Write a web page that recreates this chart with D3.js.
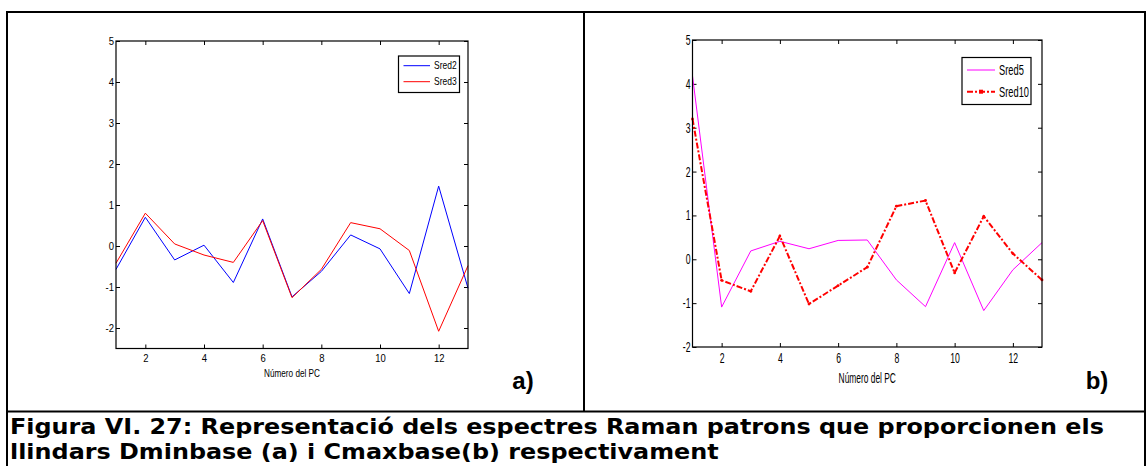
<!DOCTYPE html>
<html>
<head>
<meta charset="utf-8">
<script src="https://cdn.jsdelivr.net/npm/d3@7"></script>
<style>
    body { margin: 0; background: #fff; }
    svg { display: block; }
    .tick line { stroke: #000; }
</style>
</head>
<body>
<svg id="surface" width="1147" height="466"></svg>
<script>
// PC number on x, one value per PC for each spectrum
var pcNumbers = [1, 2, 3, 4, 5, 6, 7, 8, 9, 10, 11, 12, 13];

var sred2  = [-0.57, 0.70, -0.34, 0.02, -0.89, 0.66, -1.24, -0.62, 0.27, -0.07, -1.16, 1.46, -1.03];
var sred3  = [-0.42, 0.80, 0.05, -0.22, -0.40, 0.62, -1.26, -0.57, 0.57, 0.42, -0.11, -2.08, -0.48];
var sred5  = [4.18, -1.09, 0.19, 0.41, 0.24, 0.43, 0.44, -0.47, -1.08, 0.38, -1.17, -0.24, 0.38];
var sred10 = [3.20, -0.48, -0.73, 0.53, -1.02, -0.60, -0.18, 1.21, 1.34, -0.31, 0.98, 0.13, -0.47];

var xTicks = [2, 4, 6, 8, 10, 12];
var yTicksA = [-2, -1, 0, 1, 2, 3, 4, 5];
var yTicksB = [-2, -1, 0, 1, 2, 3, 4, 5];

var captionLines = [
    "Figura VI. 27: Representació dels espectres Raman patrons que proporcionen els",
    "llindars Dminbase (a) i Cmaxbase(b) respectivament"
];

var svg = d3.select("#surface");

// plain integer labels with an ascii minus, as MATLAB prints them
function tickLabel(d) { return String(d); }

// condensed text, like a squeezed MATLAB figure
function addText(parent, x, y, str, size, sx, anchor, weight)
{
    return parent.append("text")
        .attr("transform", "translate(" + x + "," + y + ") scale(" + sx + ",1)")
        .attr("text-anchor", anchor || "start")
        .style("font-family", "'Liberation Sans', Arial, sans-serif")
        .style("font-size", size + "px")
        .style("font-weight", weight || "normal")
        .text(str);
}

function drawPanel(cfg)
{
    var g = svg.append("g");

    var x = d3.scaleLinear().domain([1, 13]).range([cfg.left, cfg.right]);
    var y = d3.scaleLinear().domain(cfg.yDomain).range([cfg.bottom, cfg.top]);

    // inward ticks on all four sides
    var bottomAxis = g.append("g")
        .attr("transform", "translate(0," + cfg.bottom + ")")
        .call(d3.axisBottom(x).tickValues(xTicks).tickFormat(tickLabel)
            .tickSizeInner(-4).tickSizeOuter(0).tickPadding(cfg.xPad));
    var leftAxis = g.append("g")
        .attr("transform", "translate(" + cfg.left + ",0)")
        .call(d3.axisLeft(y).tickValues(cfg.yTicks).tickFormat(tickLabel)
            .tickSizeInner(-4).tickSizeOuter(0).tickPadding(2));
    g.append("g")
        .attr("transform", "translate(0," + cfg.top + ")")
        .call(d3.axisTop(x).tickValues(xTicks).tickSizeInner(-4).tickSizeOuter(0).tickFormat(""));
    g.append("g")
        .attr("transform", "translate(" + cfg.right + ",0)")
        .call(d3.axisRight(y).tickValues(cfg.yTicks).tickSizeInner(-4).tickSizeOuter(0).tickFormat(""));

    g.selectAll(".domain").remove();
    g.selectAll(".tick text")
        .attr("fill", "#000")
        .style("font-family", "'Liberation Sans', Arial, sans-serif")
        .style("font-size", cfg.fontSize + "px");
    bottomAxis.selectAll(".tick text").attr("transform", "scale(" + cfg.sx + ",1)");
    leftAxis.selectAll(".tick text")
        .attr("x", -2 / cfg.sx)
        .attr("transform", "scale(" + cfg.sx + ",1)");

    var line = d3.line()
        .x(function(d, i) { return x(pcNumbers[i]); })
        .y(function(d) { return y(d); });

    cfg.series.forEach(function(s)
    {
        g.append("path")
            .datum(s.values)
            .attr("d", line)
            .attr("fill", "none")
            .attr("stroke", s.color)
            .attr("stroke-width", s.width)
            .attr("stroke-dasharray", s.dash || null);

        if (s.marker)
        {
            g.selectAll(null)
                .data(s.values)
                .enter().append("circle")
                    .attr("cx", function(d, i) { return x(pcNumbers[i]); })
                    .attr("cy", function(d) { return y(d); })
                    .attr("r", 1.4)
                    .attr("fill", s.color);
        }
    });

    // plot box
    g.append("rect")
        .attr("x", cfg.left)
        .attr("y", cfg.top)
        .attr("width", cfg.right - cfg.left)
        .attr("height", cfg.bottom - cfg.top)
        .attr("fill", "none")
        .attr("stroke", "#000")
        .attr("stroke-width", 1.2);

    // legend
    var lg = cfg.legend;
    g.append("rect")
        .attr("x", lg.x).attr("y", lg.y)
        .attr("width", lg.w).attr("height", lg.h)
        .attr("fill", "#fff")
        .attr("stroke", "#000")
        .attr("stroke-width", 1.2);

    cfg.series.forEach(function(s, i)
    {
        var ly = lg.rows[i];
        g.append("line")
            .attr("x1", lg.x + 5).attr("x2", lg.lineEnd)
            .attr("y1", ly).attr("y2", ly)
            .attr("stroke", s.color)
            .attr("stroke-width", s.width)
            .attr("stroke-dasharray", s.dash || null);
        if (s.marker)
        {
            g.append("rect")
                .attr("x", (lg.x + 5 + lg.lineEnd) / 2 - 2)
                .attr("y", ly - 2)
                .attr("width", 4).attr("height", 4)
                .attr("fill", s.color);
        }
        addText(g, lg.textX, ly + lg.fontSize * 0.36, s.name, lg.fontSize, lg.sx, "start");
    });

    addText(g, (cfg.left + cfg.right) / 2, cfg.labelY, "Número del PC", cfg.fontSize, cfg.labelSx, "middle");
    addText(g, cfg.letterX, 389, cfg.letter, 24, 1, "middle", "bold");
}

drawPanel({
    left: 116, right: 468, top: 41, bottom: 348.5,
    yDomain: [-2.5, 5], yTicks: yTicksA,
    fontSize: 10, sx: 0.95, xPad: 6, labelY: 377, labelSx: 0.82,
    letter: "a)", letterX: 523,
    series: [
        { name: "Sred2", values: sred2, color: "#0000ff", width: 1 },
        { name: "Sred3", values: sred3, color: "#ff0000", width: 1 }
    ],
    legend: { x: 398.5, y: 56, w: 61, h: 36.5, lineEnd: 430, textX: 434, rows: [65.7, 81.7], fontSize: 10, sx: 0.85 }
});

drawPanel({
    left: 692.5, right: 1042, top: 40, bottom: 347,
    yDomain: [-2, 5], yTicks: yTicksB,
    fontSize: 14, sx: 0.62, xPad: 6, labelY: 383, labelSx: 0.6,
    letter: "b)", letterX: 1097,
    series: [
        { name: "Sred5", values: sred5, color: "#ff00ff", width: 1 },
        { name: "Sred10", values: sred10, color: "#ff0000", width: 2, dash: "6,2,2,2", marker: true }
    ],
    legend: { x: 962, y: 57.5, w: 69, h: 47, lineEnd: 995, textX: 999, rows: [70, 91.7], fontSize: 15, sx: 0.62 }
});

// page frame: two panels above, caption row below
var frame = svg.append("g")
    .attr("stroke", "#000")
    .attr("stroke-width", 2)
    .attr("fill", "none");
frame.append("path").attr("d", "M7,470 V12 H1145 V470");
frame.append("line").attr("x1", 7).attr("x2", 1145).attr("y1", 411.5).attr("y2", 411.5);
frame.append("line").attr("x1", 584).attr("x2", 584).attr("y1", 12).attr("y2", 411.5);

// caption: fixed size, then stretched sideways so the first line fills the cell
var CAPTION_SIZE = 20.5;
var caption = svg.append("text")
    .style("font-family", "'DejaVu Sans', Verdana, sans-serif")
    .style("font-weight", "bold")
    .style("font-size", CAPTION_SIZE + "px");

caption.selectAll("tspan")
    .data(captionLines)
    .enter().append("tspan")
        .attr("x", 0)
        .attr("y", function(d, i) { return i * 25; })
        .text(function(d) { return d; });

var firstWidth = caption.select("tspan").node().getComputedTextLength();
caption.attr("transform", "translate(10,434) scale(" + (1094 / firstWidth) + ",1)");
</script>
</body>
</html>
